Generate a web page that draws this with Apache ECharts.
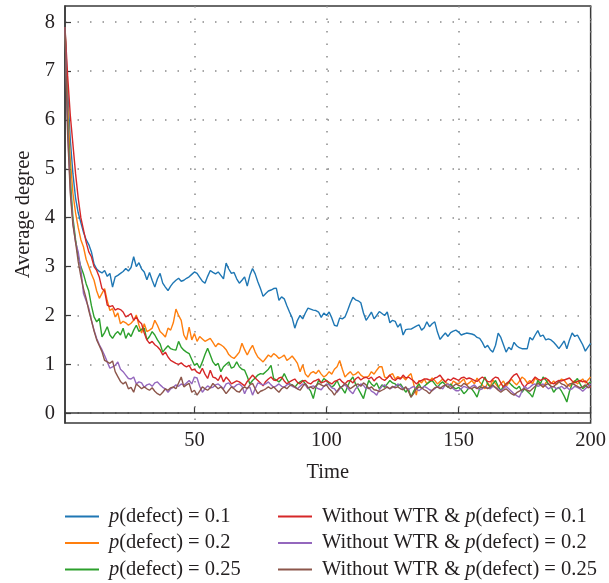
<!DOCTYPE html>
<html>
<head>
<meta charset="utf-8">
<script src="https://cdn.jsdelivr.net/npm/echarts@6/dist/echarts.min.js"></script>
<style>
  html, body { margin: 0; padding: 0; background: #ffffff; }
  #chart { width: 609px; height: 583px; }
</style>
</head>
<body>
<div id="chart"></div>
<script>
// Average degree over time, with and without WTR, for three defection probabilities.
const seriesNames = [
  'p(defect) = 0.1',
  'p(defect) = 0.2',
  'p(defect) = 0.25',
  'Without WTR & p(defect) = 0.1',
  'Without WTR & p(defect) = 0.2',
  'Without WTR & p(defect) = 0.25'
];
const seriesColors = ['#1f77b4', '#ff7f0e', '#2ca02c', '#d62728', '#9467bd', '#8c564b'];

const xTicks = [50, 100, 150, 200];
const yTicks = [0, 1, 2, 3, 4, 5, 6, 7, 8];

// Values for t = 1 .. 200
const wtrP010 = [
  7.9, 6.6, 5.6, 4.9, 4.4, 4.1, 3.9, 3.7, 3.55, 3.45,
  3.3, 3.05, 2.95, 2.9, 2.87, 2.92, 2.8, 2.86, 2.58, 2.79,
  2.82, 2.86, 2.9, 2.96, 2.91, 2.98, 3.2, 3.0, 3.08, 2.95,
  2.89, 2.73, 2.88, 2.72, 2.58, 2.75, 2.86, 2.66, 2.58, 2.51,
  2.6, 2.67, 2.72, 2.76, 2.7, 2.72, 2.76, 2.79, 2.84, 2.89,
  2.86, 2.78, 2.7, 2.66, 2.8, 2.92, 2.88, 2.85, 2.89, 2.82,
  2.75, 3.07, 2.95, 2.86, 2.88, 2.75, 2.66, 2.72, 2.79, 2.6,
  2.82, 2.96, 2.85, 2.69, 2.55, 2.39, 2.45, 2.5, 2.52, 2.55,
  2.56, 2.31, 2.38, 2.34, 2.2, 2.07, 1.95, 1.74, 1.9, 2.0,
  1.93, 2.05, 2.15, 2.13, 2.11, 2.1, 2.07, 1.96, 2.05, 2.0,
  2.07, 1.95, 1.8, 1.78, 1.95, 1.93, 1.97, 2.1, 2.25, 2.37,
  2.32, 2.3, 2.26, 2.05, 1.9, 1.98, 2.07, 1.93, 2.0, 2.08,
  2.04, 2.0, 2.07, 1.85, 1.9, 1.88, 1.76, 1.83, 1.6, 1.71,
  1.72, 1.72, 1.75, 1.78, 1.81, 1.7, 1.75, 1.87, 1.77, 1.83,
  1.87, 1.66, 1.51, 1.58, 1.64, 1.57, 1.65, 1.68, 1.7, 1.66,
  1.6, 1.62, 1.64, 1.63, 1.62, 1.6, 1.55, 1.53, 1.45, 1.34,
  1.39, 1.3, 1.25, 1.39, 1.64, 1.55, 1.4, 1.25, 1.35, 1.3,
  1.45, 1.38, 1.34, 1.32, 1.32, 1.32, 1.55, 1.5, 1.6, 1.69,
  1.57, 1.6, 1.5, 1.52, 1.5, 1.45, 1.39, 1.32, 1.4, 1.48,
  1.32, 1.5, 1.64, 1.57, 1.6, 1.5, 1.4, 1.27, 1.35, 1.43
];
const wtrP020 = [
  7.9, 6.3, 5.2, 4.5, 4.1, 3.8, 3.55, 3.4, 3.15, 3.0,
  2.85, 2.72, 2.5, 2.35, 2.45, 2.55, 2.3, 2.1, 2.14, 1.97,
  2.05, 1.83, 1.88, 1.85, 1.8, 1.84, 1.9, 2.01, 1.8, 1.64,
  1.83, 1.67, 1.7, 1.74, 1.9, 1.8, 1.67, 1.62, 1.56, 1.74,
  1.7, 1.85, 2.13, 2.0, 1.9, 1.6, 1.5, 1.76, 1.5, 1.63,
  1.47, 1.57, 1.52, 1.47, 1.5, 1.53, 1.45, 1.36, 1.43, 1.4,
  1.36, 1.3, 1.2, 1.15, 1.12, 1.18, 1.25, 1.43, 1.3, 1.19,
  1.3, 1.39, 1.25, 1.15, 1.1, 1.05, 1.12, 1.19, 1.15, 1.22,
  1.18, 1.12, 1.15, 1.19, 1.08, 1.12, 1.17, 1.1, 1.02, 0.85,
  0.99, 0.8, 0.74, 0.82, 0.85, 0.81, 0.88, 0.8, 0.74, 0.78,
  0.85, 0.8, 0.9, 0.95, 1.08, 0.9, 0.74, 0.8, 0.85, 0.78,
  0.8, 0.85, 0.78, 0.74, 0.73, 0.76, 0.85, 0.8, 0.88, 0.95,
  0.95, 0.74, 0.72, 0.78, 0.81, 0.7, 0.75, 0.72, 0.74, 0.68,
  0.76, 0.81, 0.6, 0.37, 0.67, 0.62, 0.7, 0.6, 0.65, 0.72,
  0.67, 0.6, 0.65, 0.7, 0.63, 0.6, 0.55, 0.66, 0.62, 0.6,
  0.65, 0.7, 0.58, 0.62, 0.67, 0.6, 0.72, 0.64, 0.58, 0.5,
  0.62, 0.55, 0.68, 0.6, 0.53, 0.6, 0.66, 0.55, 0.62, 0.7,
  0.63, 0.58, 0.65, 0.74, 0.7, 0.62, 0.67, 0.6, 0.72, 0.67,
  0.6, 0.53, 0.62, 0.68, 0.6, 0.66, 0.58, 0.64, 0.7, 0.67,
  0.6, 0.55, 0.62, 0.67, 0.6, 0.65, 0.7, 0.62, 0.68, 0.74
];
const wtrP025 = [
  7.9, 6.0, 4.8, 4.0, 3.55, 3.2, 3.0, 2.85, 2.65, 2.5,
  2.2, 1.97, 1.87, 1.94, 1.56, 1.65, 1.77, 1.6, 1.53, 1.62,
  1.67, 1.6, 1.74, 1.53, 1.64, 1.57, 1.7, 1.8, 1.67, 1.72,
  1.74, 1.5, 1.57, 1.67, 1.6, 1.5, 1.42, 1.25, 1.32, 1.38,
  1.32, 1.3, 1.29, 1.47, 1.35, 1.29, 1.25, 1.22, 1.1, 0.98,
  1.02, 0.92, 1.05, 1.2, 1.33, 1.19, 1.05, 0.98, 1.02, 0.85,
  0.95, 1.0, 1.05, 0.92, 0.95, 1.05, 0.95, 0.9, 0.88, 0.75,
  0.6, 0.67, 0.72, 0.78, 0.81, 0.8, 0.85, 0.9, 0.98, 0.71,
  0.68, 0.64, 0.7, 0.81, 0.7, 0.6, 0.58, 0.53, 0.6, 0.64,
  0.67, 0.6, 0.53, 0.45, 0.3, 0.53, 0.67, 0.62, 0.71, 0.67,
  0.6, 0.53, 0.58, 0.67, 0.55, 0.5, 0.41, 0.55, 0.67, 0.74,
  0.6, 0.5, 0.4, 0.3, 0.5, 0.67, 0.6, 0.55, 0.62, 0.5,
  0.58, 0.53, 0.6, 0.67, 0.62, 0.6, 0.55, 0.6, 0.52, 0.43,
  0.5, 0.33, 0.45, 0.53, 0.6, 0.5, 0.55, 0.6, 0.64, 0.67,
  0.6, 0.53, 0.6, 0.64, 0.58, 0.53, 0.6, 0.53, 0.5, 0.53,
  0.48, 0.4, 0.45, 0.53, 0.5, 0.42, 0.33, 0.5, 0.62, 0.74,
  0.6, 0.53, 0.6, 0.67, 0.55, 0.46, 0.55, 0.6, 0.64, 0.58,
  0.53, 0.5, 0.55, 0.43, 0.5, 0.45, 0.4, 0.33, 0.5, 0.67,
  0.6, 0.74, 0.68, 0.6, 0.55, 0.43, 0.5, 0.53, 0.45, 0.35,
  0.23, 0.45, 0.6, 0.65, 0.71, 0.6, 0.5, 0.55, 0.6, 0.64
];
const noWtrP010 = [
  7.9, 6.9, 6.1, 5.5, 4.9, 4.4, 4.0, 3.75, 3.5, 3.3,
  3.2, 3.0, 2.92, 2.78, 2.55, 2.5, 2.21, 2.18, 2.2, 2.11,
  2.14, 2.12, 2.07, 1.97, 2.0, 2.04, 1.9, 1.97, 1.88, 1.83,
  1.64, 1.5, 1.43, 1.47, 1.4, 1.36, 1.3, 1.19, 1.25, 1.15,
  1.08, 1.05, 1.02, 1.0, 1.03, 0.98, 0.95, 0.98, 0.88, 0.9,
  0.84, 0.81, 0.92, 0.8, 0.71, 0.88, 0.74, 0.72, 0.67, 0.78,
  0.64, 0.74, 0.68, 0.6, 0.63, 0.66, 0.64, 0.6, 0.56, 0.65,
  0.71, 0.78, 0.72, 0.67, 0.62, 0.56, 0.65, 0.7, 0.74, 0.68,
  0.67, 0.72, 0.74, 0.66, 0.6, 0.64, 0.67, 0.7, 0.63, 0.6,
  0.66, 0.67, 0.62, 0.6, 0.65, 0.67, 0.7, 0.62, 0.64, 0.67,
  0.63, 0.6, 0.65, 0.67, 0.7, 0.64, 0.6, 0.66, 0.67, 0.62,
  0.7, 0.74, 0.68, 0.72, 0.74, 0.7, 0.74, 0.66, 0.72, 0.75,
  0.7, 0.67, 0.72, 0.78, 0.7, 0.67, 0.72, 0.7, 0.78, 0.72,
  0.74, 0.7, 0.66, 0.6, 0.65, 0.67, 0.7, 0.7, 0.68, 0.67,
  0.72, 0.74, 0.78, 0.7, 0.64, 0.7, 0.67, 0.72, 0.7, 0.67,
  0.72, 0.74, 0.7, 0.72, 0.7, 0.67, 0.65, 0.7, 0.74, 0.7,
  0.65, 0.64, 0.7, 0.74, 0.72, 0.62, 0.53, 0.6, 0.64, 0.72,
  0.78, 0.81, 0.72, 0.6, 0.53, 0.6, 0.62, 0.67, 0.74, 0.7,
  0.67, 0.7, 0.72, 0.68, 0.62, 0.6, 0.64, 0.67, 0.66, 0.68,
  0.7, 0.72, 0.66, 0.62, 0.65, 0.67, 0.64, 0.66, 0.6, 0.53
];
const noWtrP020 = [
  7.9, 5.8, 4.6, 3.9, 3.5, 3.3, 2.95, 2.45, 2.3, 2.15,
  1.9, 1.7, 1.53, 1.4, 1.3, 1.18, 1.05, 0.92, 0.95, 0.98,
  1.05, 0.9, 0.85, 0.78, 0.71, 0.7, 0.74, 0.6, 0.64, 0.62,
  0.53, 0.58, 0.6, 0.55, 0.62, 0.64, 0.58, 0.53, 0.5, 0.43,
  0.5, 0.53, 0.58, 0.55, 0.6, 0.57, 0.62, 0.67, 0.6, 0.74,
  0.72, 0.55, 0.43, 0.5, 0.56, 0.52, 0.53, 0.58, 0.6, 0.55,
  0.5, 0.6, 0.62, 0.55, 0.53, 0.58, 0.6, 0.55, 0.4, 0.52,
  0.53, 0.37, 0.5, 0.62, 0.6, 0.58, 0.6, 0.64, 0.58, 0.53,
  0.56, 0.6, 0.55, 0.53, 0.58, 0.6, 0.55, 0.53, 0.5, 0.55,
  0.6, 0.58, 0.5, 0.54, 0.56, 0.53, 0.5, 0.48, 0.55, 0.6,
  0.58, 0.52, 0.5, 0.43, 0.5, 0.55, 0.58, 0.52, 0.45, 0.4,
  0.5, 0.55, 0.6, 0.57, 0.5, 0.53, 0.45, 0.42, 0.37, 0.48,
  0.55, 0.58, 0.53, 0.5, 0.53, 0.55, 0.6, 0.56, 0.5, 0.53,
  0.48, 0.52, 0.55, 0.5, 0.46, 0.5, 0.55, 0.52, 0.48, 0.46,
  0.5, 0.55, 0.53, 0.5, 0.58, 0.6, 0.55, 0.5, 0.46, 0.46,
  0.5, 0.55, 0.53, 0.5, 0.55, 0.58, 0.52, 0.48, 0.5, 0.55,
  0.52, 0.5, 0.55, 0.53, 0.5, 0.46, 0.5, 0.55, 0.5, 0.45,
  0.4, 0.36, 0.33, 0.45, 0.55, 0.5, 0.53, 0.58, 0.6, 0.55,
  0.57, 0.6, 0.55, 0.5, 0.53, 0.55, 0.5, 0.52, 0.55, 0.5,
  0.53, 0.48, 0.5, 0.55, 0.53, 0.5, 0.45, 0.5, 0.55, 0.6
];
const noWtrP025 = [
  7.9, 5.7, 4.5, 3.85, 3.5, 3.1, 2.8, 2.55, 2.35, 2.1,
  1.9, 1.68, 1.5, 1.38, 1.26, 1.08, 1.05, 1.02, 1.07, 0.85,
  0.75, 0.65, 0.6, 0.64, 0.5, 0.53, 0.43, 0.6, 0.55, 0.5,
  0.54, 0.5, 0.47, 0.52, 0.45, 0.4, 0.37, 0.43, 0.5, 0.47,
  0.52, 0.54, 0.5, 0.62, 0.74, 0.54, 0.58, 0.61, 0.43, 0.47,
  0.37, 0.45, 0.54, 0.5, 0.47, 0.52, 0.61, 0.55, 0.5, 0.54,
  0.48, 0.4, 0.47, 0.54, 0.5, 0.45, 0.43, 0.5, 0.54, 0.5,
  0.58, 0.61, 0.5, 0.4, 0.45, 0.47, 0.5, 0.54, 0.5, 0.54,
  0.48, 0.43, 0.5, 0.54, 0.5, 0.56, 0.58, 0.54, 0.5, 0.47,
  0.55, 0.61, 0.52, 0.54, 0.5, 0.56, 0.61, 0.58, 0.55, 0.58,
  0.5, 0.45, 0.37, 0.45, 0.52, 0.55, 0.61, 0.56, 0.5, 0.54,
  0.58, 0.6, 0.55, 0.62, 0.58, 0.5, 0.54, 0.48, 0.47, 0.44,
  0.47, 0.5, 0.54, 0.5, 0.55, 0.52, 0.54, 0.5, 0.48, 0.54,
  0.45, 0.33, 0.4, 0.5, 0.54, 0.52, 0.48, 0.45, 0.4, 0.47,
  0.52, 0.54, 0.5, 0.55, 0.58, 0.54, 0.5, 0.55, 0.6, 0.57,
  0.55, 0.61, 0.58, 0.52, 0.5, 0.54, 0.5, 0.55, 0.52, 0.54,
  0.5, 0.54, 0.58, 0.52, 0.47, 0.43, 0.47, 0.5, 0.45, 0.4,
  0.37, 0.42, 0.45, 0.48, 0.5, 0.47, 0.45, 0.5, 0.55, 0.61,
  0.58, 0.54, 0.58, 0.61, 0.55, 0.54, 0.6, 0.65, 0.6, 0.58,
  0.54, 0.6, 0.61, 0.58, 0.55, 0.52, 0.54, 0.58, 0.52, 0.54
];

const seriesValues = [wtrP010, wtrP020, wtrP025, noWtrP010, noWtrP020, noWtrP025];

const serif = '"Liberation Serif", "DejaVu Serif", serif';
const inkColor = '#231f20';
const axisColor = '#3a3a3a';
const textSize = 20.5;

function legendLabel(name) {
  return name.replace('p(', '{i|p}(');
}

const legendBase = {
  orient: 'vertical',
  top: 506,
  height: 80,
  padding: 0,
  itemGap: 5.5,
  itemWidth: 34,
  itemHeight: 2,
  icon: 'rect',
  formatter: legendLabel,
  textStyle: {
    fontFamily: serif,
    fontSize: textSize,
    lineHeight: 21,
    color: inkColor,
    padding: [0, 0, 0, 5],
    rich: {
      i: { fontFamily: serif, fontSize: textSize, fontStyle: 'italic', color: inkColor, lineHeight: 21 }
    }
  }
};

const chart = echarts.init(document.getElementById('chart'), null, { renderer: 'canvas' });

chart.setOption({
  animation: false,
  backgroundColor: '#ffffff',
  color: seriesColors,
  grid: {
    left: 65, right: 16, top: 6, bottom: 160,
    show: true, borderColor: axisColor, borderWidth: 1.5, backgroundColor: 'transparent'
  },
  legend: [
    Object.assign({}, legendBase, { left: 65, data: seriesNames.slice(0, 3) }),
    Object.assign({}, legendBase, { left: 278, data: seriesNames.slice(3) })
  ],
  xAxis: {
    type: 'value',
    min: 1,
    max: 200,
    name: 'Time',
    nameLocation: 'middle',
    nameGap: 39,
    nameTextStyle: { fontFamily: serif, fontSize: textSize, color: inkColor },
    axisLine: { show: true, lineStyle: { color: axisColor, width: 1.5 } },
    axisTick: { show: true, inside: true, length: 6, customValues: xTicks, lineStyle: { color: axisColor, width: 1.2 } },
    axisLabel: { customValues: xTicks, fontFamily: serif, fontSize: textSize, color: inkColor, margin: 7 },
    splitLine: { show: true, lineStyle: { color: '#8a8a8a', width: 1.5, type: [1.5, 11] } }
  },
  yAxis: {
    type: 'value',
    min: -0.2,
    max: 8.33,
    name: 'Average degree',
    nameLocation: 'middle',
    nameGap: 31,
    nameTextStyle: { fontFamily: serif, fontSize: textSize, color: inkColor },
    axisLine: { show: true, lineStyle: { color: axisColor, width: 1.5 } },
    axisTick: { show: true, inside: true, length: 6, customValues: yTicks, lineStyle: { color: axisColor, width: 1.2 } },
    axisLabel: { customValues: yTicks, fontFamily: serif, fontSize: textSize, color: inkColor, margin: 10 },
    splitLine: { show: true, lineStyle: { color: '#8a8a8a', width: 1.5, type: [1.5, 11] } }
  },
  series: seriesNames.map(function (name, k) {
    return {
      name: name,
      type: 'line',
      showSymbol: false,
      symbol: 'none',
      lineStyle: { width: 1.4, color: seriesColors[k] },
      itemStyle: { color: seriesColors[k] },
      data: seriesValues[k].map(function (v, i) { return [i + 1, v]; })
    };
  })
});
</script>
</body>
</html>
